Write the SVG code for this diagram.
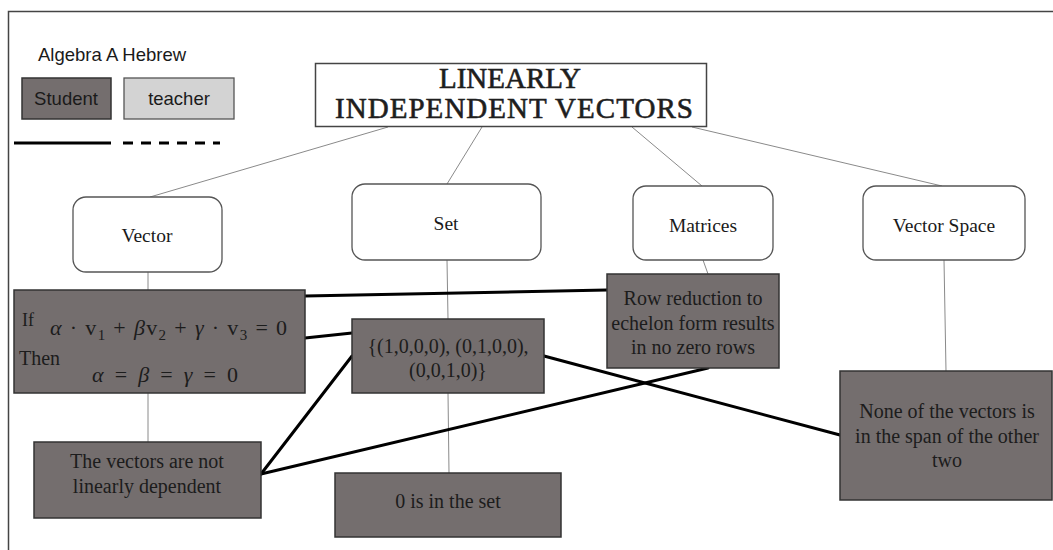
<svg xmlns="http://www.w3.org/2000/svg" width="1053" height="550" viewBox="0 0 1053 550">
  <style>
    .frame { stroke: #444; stroke-width: 1.5; fill: none; }
    .topic { fill: #ffffff; stroke: #555; stroke-width: 1.3; }
    .student { fill: #746e6e; stroke: #333; stroke-width: 1.5; }
    .teacher { fill: #d3d3d3; stroke: #555; stroke-width: 1.3; }
    .thin { stroke: #8a8a8a; stroke-width: 1; fill: none; }
    .thick { stroke: #000; stroke-width: 3; fill: none; stroke-linecap: round; }
    .sans { font-family: "Liberation Sans", Arial, sans-serif; font-size: 18.5px; fill: #1a1a1a; }
    .serif { font-family: "Liberation Serif", "Times New Roman", serif; font-size: 19.5px; fill: #1a1a1a; text-anchor: middle; }
    .body { font-family: "Liberation Serif", "Times New Roman", serif; font-size: 20px; fill: #1c1c1c; text-anchor: middle; }
    .title { font-family: "Liberation Serif", "Times New Roman", serif; font-size: 29px; fill: #1e1e1e; stroke: #1e1e1e; stroke-width: 0.6; text-anchor: middle; }
    .math { font-family: "Liberation Serif", "DejaVu Serif", serif; font-size: 22px; fill: #1c1c1c; }
    .lbl { font-family: "Liberation Serif", "Times New Roman", serif; fill: #1c1c1c; }
  </style>

  <!-- page frame (top and left edges) -->
  <path class="frame" d="M8.5 550 V11.5 H1053"/>

  <!-- legend -->
  <g id="legend">
    <text class="sans" x="38" y="61">Algebra A Hebrew</text>
    <rect class="student" x="22" y="78" width="89" height="41"/>
    <text class="sans" x="66" y="105" text-anchor="middle">Student</text>
    <rect class="teacher" x="124" y="78" width="110" height="41"/>
    <text class="sans" x="179" y="105" text-anchor="middle">teacher</text>
    <line x1="14" y1="143" x2="111" y2="143" stroke="#000" stroke-width="3"/>
    <line x1="123" y1="143" x2="220" y2="143" stroke="#000" stroke-width="3" stroke-dasharray="10 8"/>
  </g>

  <!-- connectors -->
  <g id="connectors">
    <!-- title to topics -->
    <line class="thin" x1="388" y1="127" x2="150" y2="197"/>
    <line class="thin" x1="482" y1="127" x2="447" y2="184"/>
    <line class="thin" x1="632" y1="127" x2="702" y2="186"/>
    <line class="thin" x1="692" y1="127" x2="942" y2="186"/>
    <!-- topics to statements -->
    <line class="thin" x1="148" y1="272" x2="148" y2="290"/>
    <line class="thin" x1="148" y1="393" x2="148" y2="442"/>
    <line class="thin" x1="447" y1="260" x2="448" y2="319"/>
    <line class="thin" x1="448" y1="393" x2="449" y2="473"/>
    <line class="thin" x1="703" y1="260" x2="708" y2="274"/>
    <line class="thin" x1="944" y1="260" x2="946" y2="371"/>
    <!-- student links -->
    <line class="thick" x1="305" y1="296" x2="607" y2="290"/>
    <line class="thick" x1="305" y1="338" x2="352" y2="333"/>
    <line class="thick" x1="352" y1="356" x2="261" y2="474"/>
    <line class="thick" x1="708" y1="368" x2="261" y2="474"/>
    <line class="thick" x1="544" y1="356" x2="840" y2="435"/>
  </g>

  <!-- central topic -->
  <g id="title">
    <rect x="315.5" y="63.5" width="391" height="63" fill="#fff" stroke="#444" stroke-width="1.5"/>
    <text class="title" x="510" y="88" textLength="142">LINEARLY</text>
    <text class="title" x="514" y="118" textLength="358" lengthAdjust="spacing">INDEPENDENT VECTORS</text>
  </g>

  <!-- topic nodes -->
  <g id="vector">
    <rect class="topic" x="73" y="197" width="149" height="75" rx="13"/>
    <text class="serif" x="147" y="242">Vector</text>
  </g>
  <g id="set">
    <rect class="topic" x="352" y="184" width="189" height="76" rx="13"/>
    <text class="serif" x="446" y="230">Set</text>
  </g>
  <g id="matrices">
    <rect class="topic" x="633" y="186" width="140" height="74" rx="13"/>
    <text class="serif" x="703" y="232">Matrices</text>
  </g>
  <g id="vector-space">
    <rect class="topic" x="863" y="186" width="162" height="74" rx="13"/>
    <text class="serif" x="944" y="232">Vector Space</text>
  </g>

  <!-- statement nodes -->
  <g id="definition">
    <rect class="student" x="14" y="290" width="291" height="103"/>
    <text class="lbl" x="22" y="326" font-size="18">If</text>
    <text class="math" x="50" y="335" textLength="237" lengthAdjust="spacing"><tspan font-style="italic">α</tspan> · v<tspan font-size="15" dy="5">1</tspan><tspan dy="-5"> + </tspan><tspan font-style="italic">β</tspan>v<tspan font-size="15" dy="5">2</tspan><tspan dy="-5"> + </tspan><tspan font-style="italic">γ</tspan> · v<tspan font-size="15" dy="5">3</tspan><tspan dy="-5"> = 0</tspan></text>
    <text class="lbl" x="19" y="365" font-size="20">Then</text>
    <text class="math" x="92" y="382" textLength="146" lengthAdjust="spacing"><tspan font-style="italic">α</tspan> = <tspan font-style="italic">β</tspan> = <tspan font-style="italic">γ</tspan> = 0</text>
  </g>

  <g id="example-set">
    <rect class="student" x="352" y="319" width="192" height="74"/>
    <text class="body" x="448" y="353">{(1,0,0,0), (0,1,0,0),</text>
    <text class="body" x="448" y="377">(0,0,1,0)}</text>
  </g>

  <g id="row-reduction">
    <rect class="student" x="607" y="274" width="172" height="94"/>
    <text class="body" x="693" y="305">Row reduction to</text>
    <text class="body" x="693" y="330">echelon form results</text>
    <text class="body" x="693" y="354">in no zero rows</text>
  </g>

  <g id="not-dependent">
    <rect class="student" x="34" y="442" width="227" height="76"/>
    <text class="body" x="147" y="468">The vectors are not</text>
    <text class="body" x="147" y="493">linearly dependent</text>
  </g>

  <g id="zero-in-set">
    <rect class="student" x="335" y="473" width="226" height="64"/>
    <text class="body" x="448" y="508">0 is in the set</text>
  </g>

  <g id="span">
    <rect class="student" x="840" y="371" width="212" height="129"/>
    <text class="body" x="947" y="418">None of the vectors is</text>
    <text class="body" x="947" y="443">in the span of the other</text>
    <text class="body" x="947" y="467">two</text>
  </g>
</svg>
